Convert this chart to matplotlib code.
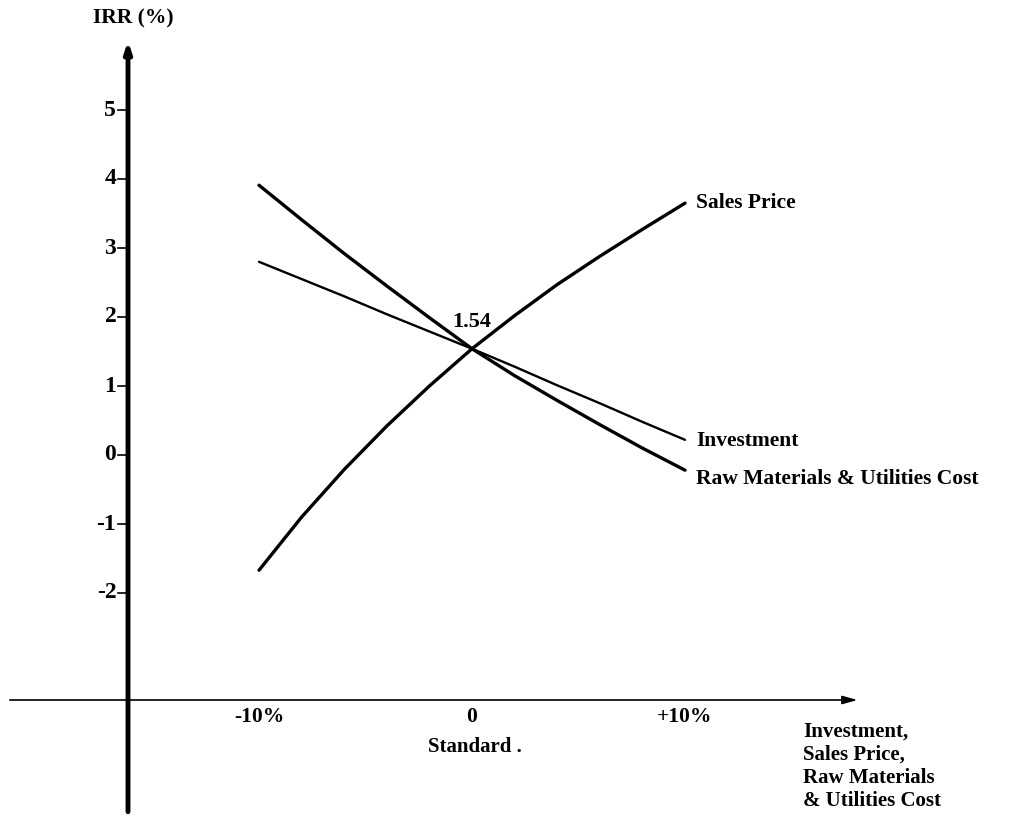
import matplotlib
matplotlib.use("Agg")
import matplotlib.pyplot as plt

# ---- data ----
change_pct = [-10, -8, -6, -4, -2, 0, 2, 4, 6, 8, 10]
sales_price = [-1.67, -0.90, -0.21, 0.42, 1.00, 1.54, 2.02, 2.47, 2.88, 3.27, 3.65]
raw_materials = [3.91, 3.41, 2.92, 2.45, 1.99, 1.54, 1.15, 0.79, 0.44, 0.10, -0.22]
investment = [2.80, 2.55, 2.30, 2.04, 1.79, 1.54, 1.28, 1.01, 0.75, 0.48, 0.22]
base_irr = 1.54
y_ticks = [5, 4, 3, 2, 1, 0, -1, -2]
x_ticks = [-10, 0, 10]
x_tick_labels = ["-10%", "0", "+10%"]
series_labels = ["Sales Price", "Investment", "Raw Materials & Utilities Cost"]

FONT = dict(family="Liberation Serif", weight="bold", color="black")

fig = plt.figure(figsize=(10.2, 8.24), dpi=100)
ax = fig.add_axes([0, 0, 1, 1])
# pixel mapping: x=0 at 472px, 21.3 px per %; y=0 at 455px, 69 px per unit
ax.set_xlim(-472 / 21.3, (1020 - 472) / 21.3)
ax.set_ylim((455 - 824) / 69, 455 / 69)
ax.axis("off")

y_axis_x = (128 - 472) / 21.3
x_axis_y = (455 - 700) / 69

# y axis (thick, with arrow)
ax.annotate("", xy=(y_axis_x, 6.0), xytext=(y_axis_x, -5.17),
            arrowprops=dict(arrowstyle="-|>,head_length=0.6,head_width=0.2",
                            lw=3.5, color="black", shrinkA=0, shrinkB=0))
# x axis (thin, with arrow)
ax.annotate("", xy=(18.1, x_axis_y), xytext=(-21.7, x_axis_y),
            arrowprops=dict(arrowstyle="-|>,head_length=0.9,head_width=0.25",
                            lw=1.2, color="black", shrinkA=0, shrinkB=0))

# y ticks and labels
for t in y_ticks:
    ax.plot([y_axis_x - 0.45, y_axis_x], [t, t], color="black", lw=1.2)
    ax.text(y_axis_x - 0.55, t, f"{t:g}", ha="right", va="center", fontsize=17, **FONT)

# x tick labels
for t, lab in zip(x_ticks, x_tick_labels):
    ax.annotate(lab, xy=(t, x_axis_y), xytext=(0, -12), textcoords="offset points",
                ha="center", va="center", fontsize=15.5, **FONT)
ax.annotate("Standard .", xy=(0, x_axis_y), xytext=(2, -34), textcoords="offset points",
            ha="center", va="center", fontsize=15, **FONT)

# lines
ax.plot(change_pct, sales_price, color="black", lw=2.4, solid_capstyle="round")
ax.plot(change_pct, raw_materials, color="black", lw=2.4, solid_capstyle="round")
ax.plot(change_pct, investment, color="black", lw=1.7, solid_capstyle="round")

# series labels at line ends
ends = [sales_price[-1], investment[-1], raw_materials[-1]]
offs = [0, -1, -6]
for lab, yv, dy in zip(series_labels, ends, offs):
    ax.annotate(lab, xy=(change_pct[-1], yv), xytext=(8, dy), textcoords="offset points",
                ha="left", va="center", fontsize=15.5, **FONT)

ax.annotate(f"{base_irr:.2f}", xy=(0, base_irr), xytext=(0, 19), textcoords="offset points",
            ha="center", va="center", fontsize=16, **FONT)

# axis titles
fig.text(133 / 1020, 1 - 18 / 824, "IRR (%)", ha="center", va="center", fontsize=15.5, **FONT)
fig.text(803 / 1020, 1 - 722 / 824,
         "Investment,\nSales Price,\nRaw Materials\n& Utilities Cost",
         ha="left", va="top", fontsize=15, linespacing=1.2, **FONT)

fig.savefig("out.png", dpi=100, facecolor="white")
